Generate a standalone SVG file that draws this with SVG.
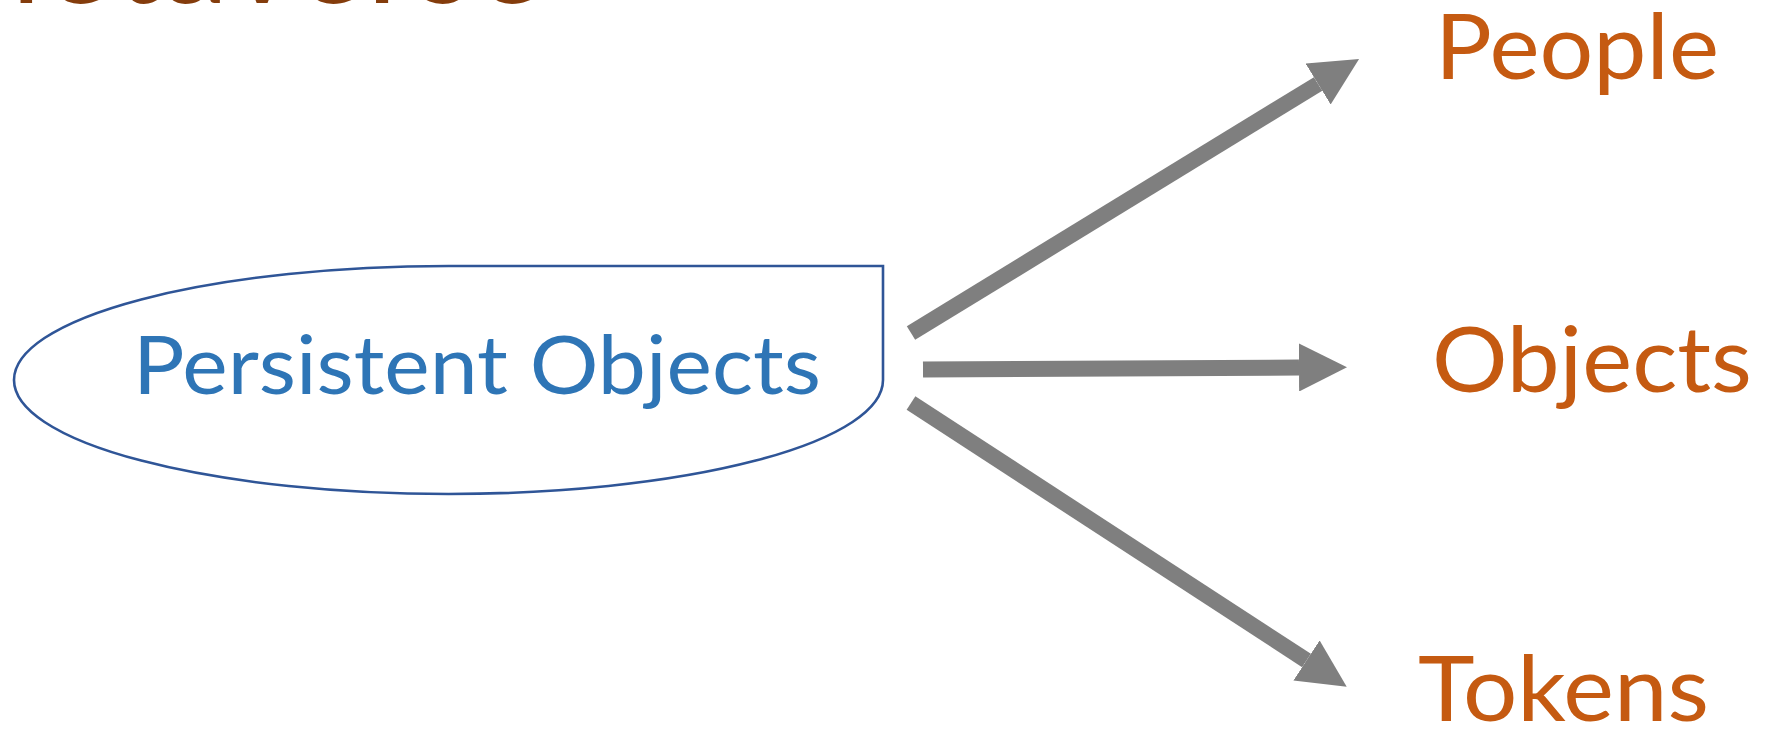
<svg xmlns="http://www.w3.org/2000/svg" width="1765" height="729" viewBox="0 0 1765 729">
  <style>
    .lbl { font-family: Lato, "Open Sans", "Liberation Sans", sans-serif; fill: #C55A11; font-size: 92px; }
    .main { font-family: Lato, "Open Sans", "Liberation Sans", sans-serif; fill: #2E75B6; font-size: 82px; }
    .title { font-family: Lato, "Open Sans", "Liberation Sans", sans-serif; fill: #843C0C; font-size: 140px; }
    .conn { stroke: #7F7F7F; stroke-width: 16; fill: none; stroke-linecap: butt; }
  </style>
  <defs>
    <marker id="head" markerUnits="userSpaceOnUse" viewBox="0 0 48 48" markerWidth="48" markerHeight="48" refX="0" refY="24" orient="auto">
      <path d="M0,0 L48,24 L0,48 Z" fill="#7F7F7F"/>
    </marker>
  </defs>
  <rect width="1765" height="729" fill="#FFFFFF"/>
  <g id="title">
    <text class="title" x="-81" y="3" textLength="626" lengthAdjust="spacingAndGlyphs">Metaverse</text>
  </g>
  <g id="persistent-objects">
    <path d="M14,380 A434.5,114 0 0 1 448.5,266 L883,266 L883,380 A434.5,114 0 0 1 448.5,494 A434.5,114 0 0 1 14,380 Z" fill="#FFFFFF" stroke="#2F5597" stroke-width="2.6"/>
    <text class="main" x="133" y="394" textLength="688" lengthAdjust="spacingAndGlyphs">Persistent Objects</text>
  </g>
  <g id="people">
    <text class="lbl" x="1435" y="79" textLength="284" lengthAdjust="spacingAndGlyphs">People</text>
  </g>
  <g id="objects">
    <text class="lbl" x="1432" y="392" textLength="320" lengthAdjust="spacingAndGlyphs">Objects</text>
  </g>
  <g id="tokens">
    <text class="lbl" x="1418" y="721" textLength="291" lengthAdjust="spacingAndGlyphs">Tokens</text>
  </g>
  <g id="connectors">
    <line class="conn" x1="911" y1="333" x2="1318.1" y2="84" marker-end="url(#head)"/>
    <line class="conn" x1="923" y1="369.5" x2="1299" y2="367.5" marker-end="url(#head)"/>
    <line class="conn" x1="911" y1="403" x2="1306.5" y2="660.5" marker-end="url(#head)"/>
  </g>
</svg>
